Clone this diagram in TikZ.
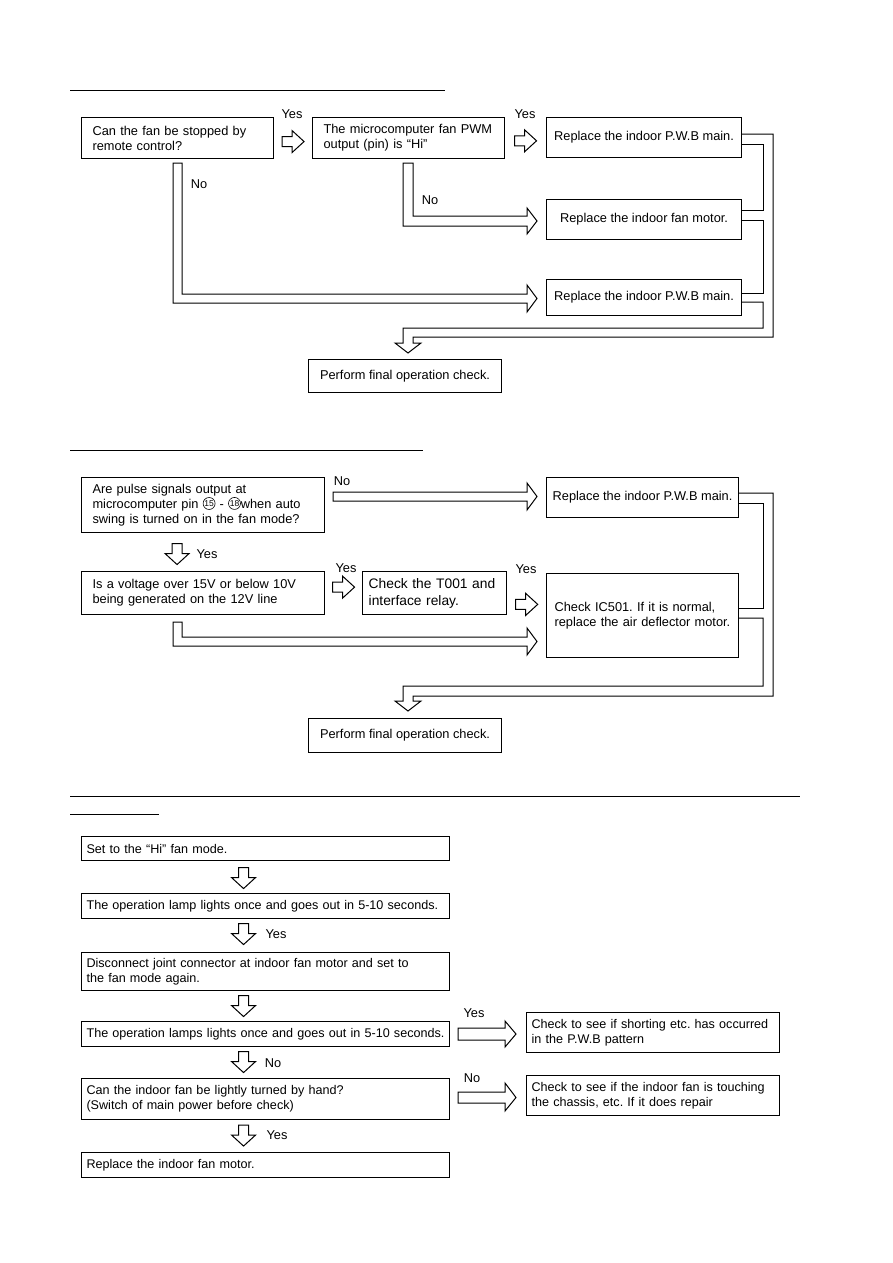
\documentclass[tikz,border=0pt]{standalone}
\usepackage{fontspec}
\setmainfont{Liberation Sans}
\usetikzlibrary{calc}
\frenchspacing

\tikzset{
  box/.style={draw, line width=1.1pt, anchor=north west, inner ysep=0pt,
    font=\fontsize{12.8}{15}\selectfont},
  qbox/.style={box, align=left, inner xsep=11pt},
  abox/.style={box, align=center, inner xsep=0pt},
  sbox/.style={box, align=left, inner xsep=5pt, font=\fontsize{12.6}{15}\selectfont},
  tag/.style={inner sep=0pt, font=\fontsize{12.8}{15}\selectfont},
  harrow/.style={draw, line width=1pt, line join=miter},
  link/.style={draw, line width=1pt},
  rule/.style={line width=1pt}
}

% small hollow arrows, given by their centre
\newcommand{\hollowright}[1]{\draw[harrow] #1 ++(-11,-5) -- ++(10,0) -- ++(0,-6) -- ++(12,11) -- ++(-12,11) -- ++(0,-6) -- ++(-10,0) -- cycle;}
\newcommand{\hollowdown}[1]{\draw[harrow] #1 ++(-5,-10.5) -- ++(0,10) -- ++(-7,0) -- ++(12,11) -- ++(12,-11) -- ++(-7,0) -- ++(0,-10) -- cycle;}
% circled pin number
\newcommand{\pinno}[1]{\tikz[baseline={([yshift=-2pt]pinno.base)}]\node[draw, circle, line width=0.6pt, inner sep=0pt, minimum size=12pt, font=\fontsize{8.5}{9}\selectfont] (pinno) {#1};}

\begin{document}
\begin{tikzpicture}[x=1pt,y=-1pt]
	\path[fill=white] (0,0) rectangle (893,1263);

	% fan does not stop
	\draw[rule] (70,90) -- (445,90);
	\node[qbox, text width=170pt, minimum height=41pt] (stop) at (81,117) {Can the fan be stopped by\\remote control?};
	\node[qbox, text width=170pt, minimum height=41pt] (pwm) at (312,117) {The microcomputer fan PWM\\output (pin) is “Hi”};
	\node[abox, minimum width=195pt, minimum height=40pt] (pwbA) at (546,117) {Replace the indoor P.W.B main.};
	\node[abox, minimum width=195pt, minimum height=40pt] (motorA) at (546,199) {Replace the indoor fan motor.};
	\node[abox, minimum width=195pt, minimum height=36pt] (pwbB) at (546,279) {Replace the indoor P.W.B main.};
	\node[abox, minimum width=193pt, minimum height=33pt] (finalA) at (308,359) {Perform final operation check.};
	\node[tag] (yesA) at (292,114) {Yes};
	\node[tag] (yesB) at (525,114) {Yes};
	\node[tag] (noA) at (199,184) {No};
	\node[tag] (noB) at (430,200) {No};
	\hollowright{($(stop.east)!.5!(pwm.west)+(0,3.5)$)}
	\hollowright{($(pwm.east)!.5!(pwbA.west)+(0,3)$)}
	\draw[harrow] (173,163) -- (182,163) -- (182,294) -- (527,294) -- (527,285) -- (537,298.5) -- (527,312) -- (527,303) -- (173,303) -- cycle;
	\draw[harrow] (403,163) -- (413,163) -- (413,216) -- (527,216) -- (527,208) -- (537,221) -- (527,234) -- (527,226) -- (403,226) -- cycle;
	\draw[link] (pwbA.east |- 0,144) -- (763,144) -- (763,210) -- (motorA.east |- 0,210);
	\draw[link] (motorA.east |- 0,220) -- (763,220) -- (763,293) -- (pwbB.east |- 0,293);
	\draw[link] (pwbB.east |- 0,302) -- (763,302) -- (763,328) -- (403,328) -- (403,343) -- (395,343) -- (408,353) -- (421,343) -- (413,343) -- (413,337) -- (773,337) -- (773,134) -- (pwbA.east |- 0,134);

	% air deflector does not swing
	\draw[rule] (70,450) -- (423,450);
	\node[qbox, text width=221pt, minimum height=55pt] (pulse) at (81,477) {Are pulse signals output at\\microcomputer pin \pinno{15} - \pinno{18}when auto\\swing is turned on in the fan mode?};
	\node[abox, minimum width=192pt, minimum height=40pt] (pwbC) at (546,477) {Replace the indoor P.W.B main.};
	\node[qbox, text width=221pt, minimum height=43pt] (volt) at (81,571) {Is a voltage over 15V or below 10V\\being generated on the 12V line};
	\node[box, line width=1.4pt, align=left, inner xsep=6pt, text width=132pt, minimum height=43pt, font=\fontsize{13.8}{17}\selectfont] (relay) at (362,571) {Check the T001 and\\interface relay.};
	\node[box, align=left, inner xsep=8pt, text width=176pt, minimum height=84pt] (ic) at (546,573) {Check IC501. If it is normal,\\replace the air deflector motor.};
	\node[abox, minimum width=193pt, minimum height=34pt] (finalB) at (308,718) {Perform final operation check.};
	\node[tag] (noC) at (342,481) {No};
	\node[tag] (yesC) at (207,554) {Yes};
	\node[tag] (yesD) at (346,568) {Yes};
	\node[tag] (yesE) at (526,569) {Yes};
	\draw[harrow] (333,492) -- (527,492) -- (527,483) -- (537,496.5) -- (527,510) -- (527,501) -- (333,501) -- cycle;
	\hollowdown{($(pulse.south)!.5!(volt.north)+(-26,2)$)}
	\hollowright{($(volt.east)!.5!(relay.west)+(0,-6)$)}
	\hollowright{($(relay.east)!.5!(ic.west)$)}
	\draw[harrow] (173,622) -- (182,622) -- (182,637) -- (527,637) -- (527,628) -- (537,641.5) -- (527,655) -- (527,646) -- (173,646) -- cycle;
	\draw[link] (pwbC.east |- 0,503) -- (763,503) -- (763,608) -- (ic.east |- 0,608);
	\draw[link] (ic.east |- 0,618) -- (763,618) -- (763,686) -- (403,686) -- (403,701) -- (395,701) -- (408,711) -- (421,701) -- (413,701) -- (413,696) -- (773,696) -- (773,493) -- (pwbC.east |- 0,493);

	% indoor fan check
	\draw[rule] (70,796) -- (800,796);
	\draw[rule] (70,814) -- (159,814);
	\node[sbox, text width=358pt, minimum height=24pt] (hifan) at (81,836) {Set to the “Hi” fan mode.};
	\node[sbox, text width=358pt, minimum height=25pt] (lampA) at (81,893) {The operation lamp lights once and goes out in 5-10 seconds.};
	\node[sbox, text width=358pt, minimum height=38pt] (joint) at (81,952) {Disconnect joint connector at indoor fan motor and set to\\the fan mode again.};
	\node[sbox, text width=358pt, minimum height=25pt] (lampB) at (81,1021) {The operation lamps lights once and goes out in 5-10 seconds.};
	\node[sbox, text width=358pt, minimum height=41pt] (turn) at (81,1078) {Can the indoor fan be lightly turned by hand?\\(Switch of main power before check)};
	\node[sbox, text width=358pt, minimum height=25pt] (motorB) at (81,1152) {Replace the indoor fan motor.};
	\node[sbox, text width=243pt, minimum height=40pt] (short) at (526,1012) {Check to see if shorting etc. has occurred\\in the P.W.B pattern};
	\node[sbox, text width=243pt, minimum height=40pt] (touch) at (526,1075) {Check to see if the indoor fan is touching\\the chassis, etc. If it does repair};
	\node[tag] (yesF) at (276,934) {Yes};
	\node[tag] (noD) at (273,1063) {No};
	\node[tag] (yesG) at (277,1135) {Yes};
	\node[tag] (yesH) at (474,1013) {Yes};
	\node[tag] (noE) at (472,1078) {No};
	\hollowdown{($(hifan.south)!.5!(lampA.north)+(-22,1)$)}
	\hollowdown{($(lampA.south)!.5!(joint.north)+(-22,-1.5)$)}
	\hollowdown{($(joint.south)!.5!(lampB.north)+(-22,0)$)}
	\hollowdown{($(lampB.south)!.5!(turn.north)+(-22,-0.5)$)}
	\hollowdown{($(turn.south)!.5!(motorB.north)+(-22,-0.5)$)}
	\draw[harrow] (458,1028) -- (505,1028) -- (505,1021) -- (516,1034) -- (505,1047) -- (505,1040) -- (458,1040) -- cycle;
	\draw[harrow] (458,1092) -- (505,1092) -- (505,1083) -- (516,1097.5) -- (505,1111) -- (505,1103) -- (458,1103) -- cycle;
\end{tikzpicture}
\end{document}
